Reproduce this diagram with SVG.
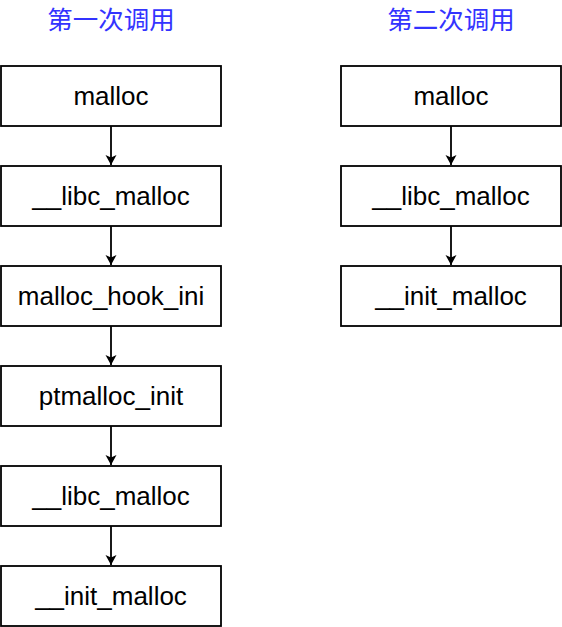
<svg xmlns="http://www.w3.org/2000/svg" width="562" height="627" viewBox="0 0 562 627">
<defs>
<style>
.box{fill:#fff;stroke:#000;stroke-width:1.8}
.lbl{font-family:"Liberation Sans",Arial,sans-serif;font-size:26px;fill:#000;text-anchor:middle;dominant-baseline:central}
.title{font-family:"Liberation Sans","Noto Sans CJK SC",sans-serif;font-size:25.5px;fill:#3333ff;text-anchor:middle;dominant-baseline:central}
.edge{stroke:#000;stroke-width:1.8;fill:none}
</style>
<marker id="arr" markerWidth="12" markerHeight="12" refX="10" refY="6" orient="auto" markerUnits="userSpaceOnUse">
<path d="M0,0.5 L10,6 L0,11.5 L2.5,6 Z" fill="#000"/>
</marker>
</defs>
<g id="title1"><text class="title" x="111" y="20">第一次调用</text></g>
<g id="title2"><text class="title" x="451" y="20">第二次调用</text></g>
<g id="connectors">
<line class="edge" x1="111" y1="126" x2="111" y2="165" marker-end="url(#arr)"/>
<line class="edge" x1="111" y1="226" x2="111" y2="265" marker-end="url(#arr)"/>
<line class="edge" x1="111" y1="326" x2="111" y2="365" marker-end="url(#arr)"/>
<line class="edge" x1="111" y1="426" x2="111" y2="465" marker-end="url(#arr)"/>
<line class="edge" x1="111" y1="526" x2="111" y2="565" marker-end="url(#arr)"/>
<line class="edge" x1="451" y1="126" x2="451" y2="165" marker-end="url(#arr)"/>
<line class="edge" x1="451" y1="226" x2="451" y2="265" marker-end="url(#arr)"/>
</g>
<g id="l1"><rect class="box" x="1" y="66" width="220" height="60"/><text class="lbl" x="111" y="96">malloc</text></g>
<g id="l2"><rect class="box" x="1" y="166" width="220" height="60"/><text class="lbl" x="111" y="196">__libc_malloc</text></g>
<g id="l3"><rect class="box" x="1" y="266" width="220" height="60"/><text class="lbl" x="111" y="296">malloc_hook_ini</text></g>
<g id="l4"><rect class="box" x="1" y="366" width="220" height="60"/><text class="lbl" x="111" y="396">ptmalloc_init</text></g>
<g id="l5"><rect class="box" x="1" y="466" width="220" height="60"/><text class="lbl" x="111" y="496">__libc_malloc</text></g>
<g id="l6"><rect class="box" x="1" y="566" width="220" height="60"/><text class="lbl" x="111" y="596">__init_malloc</text></g>
<g id="r1"><rect class="box" x="341" y="66" width="220" height="60"/><text class="lbl" x="451" y="96">malloc</text></g>
<g id="r2"><rect class="box" x="341" y="166" width="220" height="60"/><text class="lbl" x="451" y="196">__libc_malloc</text></g>
<g id="r3"><rect class="box" x="341" y="266" width="220" height="60"/><text class="lbl" x="451" y="296">__init_malloc</text></g>
</svg>
